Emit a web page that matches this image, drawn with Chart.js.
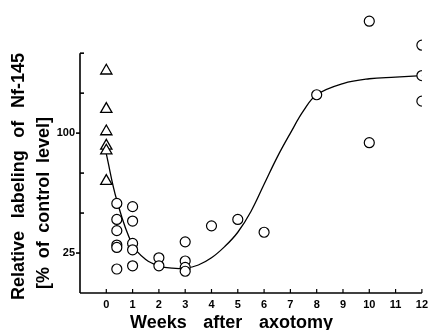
<!DOCTYPE html>
<html>
<head>
<meta charset="utf-8">
<script src="https://cdn.jsdelivr.net/npm/chart.js@4"></script>
<style>
html,body{margin:0;padding:0;background:#fff;}
</style>
</head>
<body>
<canvas id="nfChart" width="433" height="330"></canvas>
<script>

// ------------------------------
// Data
// ------------------------------

// control animals, week 0 (triangles)
const controlWeeks = [0, 0, 0, 0, 0, 0];
const controlValues = [139, 115, 101, 92, 89, 70];

// axotomized animals (circles)
const axoWeeks = [0.4, 0.4, 0.4, 0.4, 0.4, 0.4,
                  1, 1, 1, 1, 1,
                  2, 2,
                  3, 3, 3, 3,
                  4, 5, 6, 8,
                  10, 10,
                  12, 12, 12];
const axoValues = [56, 46, 39, 30, 28.5, 15,
                   54, 45, 31, 27, 17,
                   22, 17,
                   32, 20, 16, 13.6,
                   42, 46, 38, 124,
                   170, 94,
                   155, 136, 120];

// hand-drawn fitted curve
const curveWeeks = [0, 0.4, 1, 1.5, 2, 2.5, 3, 3.5, 4, 4.5, 5, 5.5, 6, 6.5, 7, 7.5, 8, 9, 10, 11, 12];
const curveValues = [87, 58, 30, 21, 17, 15.5, 15.5, 17.5, 22, 29, 38, 51, 68, 85, 100, 114, 124, 131, 134, 135, 136];

// axes
const xTicks = [0, 1, 2, 3, 4, 5, 6, 7, 8, 9, 10, 11, 12];
const yTicks = [25, 50, 75, 100, 125, 150];
const yLabeled = [25, 100];

const xTitle = ["Weeks", "after", "axotomy"];
const yTitle1 = ["Relative", "labeling", "of", "Nf-145"];
const yTitle2 = ["[%", "of", "control", "level]"];

// ------------------------------
// Helpers
// ------------------------------

const FONT = '"Liberation Sans", Arial, sans-serif';

function toPoints(xs, ys){
    return xs.map(function(x, i){
        return {x: x, y: ys[i]};
    });
}

// draw words spread over a given width
function drawSpread(ctx, words, x, y, width){
    let textW = 0;
    words.forEach(function(w){ textW += ctx.measureText(w).width; });
    const gap = (width - textW) / (words.length - 1);
    let cx = x;
    words.forEach(function(w){
        ctx.fillText(w, cx, y);
        cx += ctx.measureText(w).width + gap;
    });
}

// ------------------------------
// Axis lines + titles plugin
// ------------------------------

const axisPlugin = {
    id: "axisPlugin",
    beforeDatasetsDraw: function(chart){
        const ctx = chart.ctx;
        const xs = chart.scales.x;
        const ys = chart.scales.y;
        const x0 = xs.getPixelForValue(-1);
        const y0 = ys.getPixelForValue(0);

        ctx.save();
        ctx.strokeStyle = "#000";
        ctx.lineWidth = 1.6;

        // y axis
        ctx.beginPath();
        ctx.moveTo(x0, y0);
        ctx.lineTo(x0, ys.getPixelForValue(150));
        ctx.stroke();

        yTicks.forEach(function(v){
            const py = ys.getPixelForValue(v);
            ctx.beginPath();
            if(yLabeled.indexOf(v) >= 0){
                ctx.moveTo(x0 - 4, py);
            }else{
                ctx.moveTo(x0 + 4, py);
            }
            ctx.lineTo(x0, py);
            ctx.stroke();
        });

        // x axis
        ctx.beginPath();
        ctx.moveTo(x0, y0);
        ctx.lineTo(xs.getPixelForValue(12), y0);
        ctx.stroke();

        ctx.lineWidth = 1.2;
        xTicks.forEach(function(v){
            const px = xs.getPixelForValue(v);
            ctx.beginPath();
            ctx.moveTo(px, y0);
            ctx.lineTo(px, y0 - 4);
            ctx.stroke();
        });

        ctx.restore();
    },
    afterDraw: function(chart){
        const ctx = chart.ctx;
        const area = chart.chartArea;

        ctx.save();
        ctx.fillStyle = "#000";
        ctx.font = "bold 18px " + FONT;
        ctx.textBaseline = "middle";
        ctx.textAlign = "left";

        // x title
        drawSpread(ctx, xTitle, area.left + 50, 323, 203);

        // y title, two rotated lines
        ctx.translate(19, 300);
        ctx.rotate(-Math.PI / 2);
        drawSpread(ctx, yTitle1, 0, 0, 247);
        ctx.restore();

        ctx.save();
        ctx.fillStyle = "#000";
        ctx.font = "bold 18px " + FONT;
        ctx.textBaseline = "middle";
        ctx.textAlign = "left";
        ctx.translate(44, 289);
        ctx.rotate(-Math.PI / 2);
        drawSpread(ctx, yTitle2, 0, 0, 172);
        ctx.restore();
    }
};

// ------------------------------
// Chart
// ------------------------------

const nfCtx = document.getElementById("nfChart");

new Chart(nfCtx, {

    type: "scatter",

    data: {
        datasets: [
            {
                label: "Control",
                data: toPoints(controlWeeks, controlValues),
                pointStyle: "triangle",
                pointRadius: 6.5,
                backgroundColor: "#fff",
                borderColor: "#000",
                borderWidth: 1.3
            },
            {
                label: "Axotomy",
                data: toPoints(axoWeeks, axoValues),
                pointStyle: "circle",
                pointRadius: 5,
                backgroundColor: "#fff",
                borderColor: "#000",
                borderWidth: 1.2
            },
            {
                type: "line",
                label: "Fit",
                data: toPoints(curveWeeks, curveValues),
                showLine: true,
                pointRadius: 0,
                borderColor: "#000",
                borderWidth: 1.3,
                fill: false,
                tension: 0.4
            }
        ]
    },

    options: {
        responsive: false,
        animation: false,
        layout: {
            padding: {top: 9, right: 7, left: 0, bottom: 0}
        },
        plugins: {
            legend: {display: false},
            tooltip: {enabled: false}
        },
        scales: {
            x: {
                type: "linear",
                min: -1,
                max: 12,
                grid: {display: false, drawTicks: false},
                border: {display: false},
                ticks: {
                    stepSize: 1,
                    padding: 5,
                    color: "#000",
                    font: {family: FONT, weight: "bold", size: 11},
                    callback: function(v){
                        return xTicks.indexOf(v) >= 0 ? String(v) : "";
                    }
                },
                afterFit: function(s){ s.height = 37; }
            },
            y: {
                min: 0,
                max: 176,
                grid: {display: false, drawTicks: false},
                border: {display: false},
                ticks: {
                    stepSize: 25,
                    padding: 5,
                    color: "#000",
                    font: {family: FONT, weight: "bold", size: 11},
                    callback: function(v){
                        return yLabeled.indexOf(v) >= 0 ? String(v) : "";
                    }
                },
                afterFit: function(s){ s.width = 80; }
            }
        }
    },

    plugins: [axisPlugin]

});

</script>
</body>
</html>
